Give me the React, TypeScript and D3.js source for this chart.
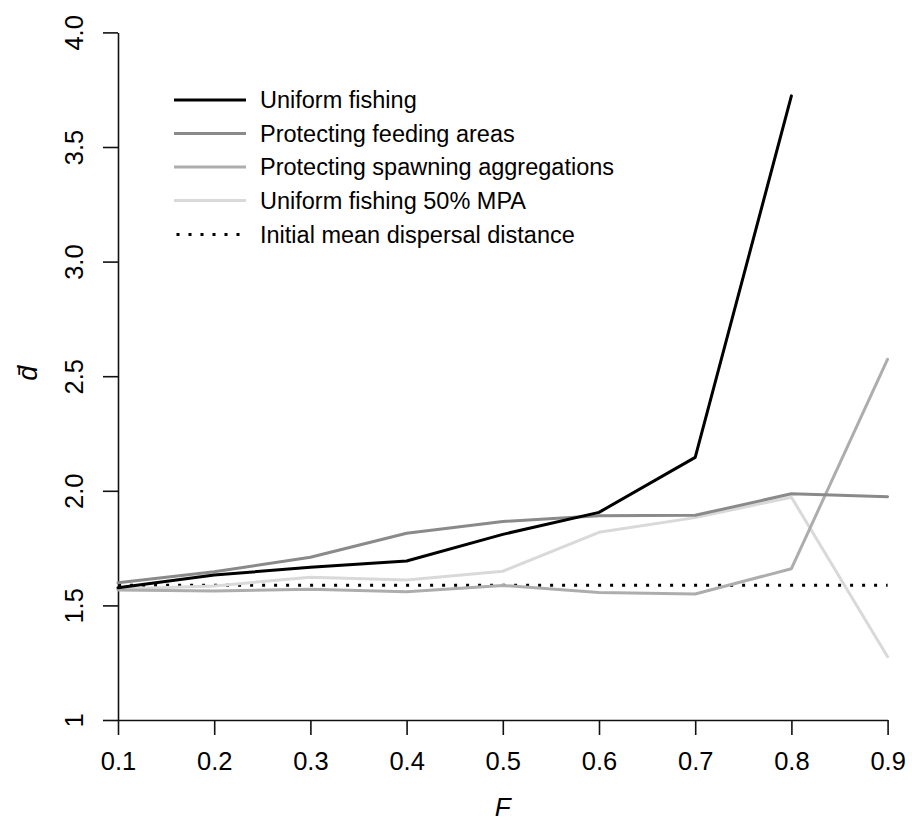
import React, { useEffect, useRef } from "react";
import * as d3 from "d3";

// fishing mortality
const fValues = [0.1, 0.2, 0.3, 0.4, 0.5, 0.6, 0.7, 0.8, 0.9];

// mean dispersal distance per scenario (uniform fishing stops at 0.8)
const uniformFishing = [1.577, 1.633, 1.666, 1.694, 1.81, 1.906, 2.146, 3.723];
const protectFeeding = [1.599, 1.647, 1.71, 1.815, 1.866, 1.891, 1.893, 1.987, 1.974];
const protectSpawning = [1.567, 1.563, 1.57, 1.56, 1.587, 1.556, 1.55, 1.66, 2.574];
const uniformMpa = [1.572, 1.585, 1.623, 1.611, 1.649, 1.819, 1.883, 1.972, 1.276];
const initialDistance = 1.588;

const yTicks = [1, 1.5, 2, 2.5, 3, 3.5, 4];
const yTickLabels = ["1", "1.5", "2.0", "2.5", "3.0", "3.5", "4.0"];
const xTickLabels = ["0.1", "0.2", "0.3", "0.4", "0.5", "0.6", "0.7", "0.8", "0.9"];

const seriesNames = [
  "Uniform fishing",
  "Protecting feeding areas",
  "Protecting spawning aggregations",
  "Uniform fishing 50% MPA",
  "Initial mean dispersal distance",
];
const seriesColors = ["#000000", "#8a8a8a", "#adadad", "#d9d9d9", "#000000"];

const FONT = "'Liberation Sans', Arial, Helvetica, sans-serif";

export default function App() {
  const svgRef = useRef<SVGSVGElement>(null);

  useEffect(() => {
    drawChart();
  }, []);

  const drawChart = () => {
    const svg = d3.select(svgRef.current);
    svg.selectAll("*").remove();

    const width = 912;
    const height = 823;
    const left = 118;
    const right = 887.6;
    const top = 32.4;
    const bottom = 720;

    const x = d3.scaleLinear().domain([0.1, 0.9]).range([left, right]);
    const y = d3.scaleLinear().domain([1, 4]).range([bottom, top]);

    svg.append("rect").attr("width", width).attr("height", height).attr("fill", "#fff");

    // x axis
    const xAxis = svg
      .append("g")
      .attr("transform", `translate(0,${bottom})`)
      .call(
        d3
          .axisBottom(x)
          .tickValues(fValues)
          .tickSize(15)
          .tickSizeOuter(0)
          .tickFormat((d, i) => xTickLabels[i])
      );
    xAxis.selectAll("path, line").attr("stroke", "#111").attr("stroke-width", 1.6);
    xAxis
      .selectAll("text")
      .attr("y", 50)
      .attr("dy", 0)
      .attr("fill", "#000")
      .style("font-family", FONT)
      .style("font-size", "25.5px");

    // y axis
    const yAxis = svg
      .append("g")
      .attr("transform", `translate(${left},0)`)
      .call(
        d3
          .axisLeft(y)
          .tickValues(yTicks)
          .tickSize(15)
          .tickSizeOuter(0)
          .tickFormat((d, i) => yTickLabels[i])
      );
    yAxis.selectAll("path, line").attr("stroke", "#111").attr("stroke-width", 1.6);
    yAxis
      .selectAll("text")
      .attr("transform", "rotate(-90)")
      .attr("x", 0)
      .attr("y", -35)
      .attr("dy", 0)
      .attr("text-anchor", "middle")
      .attr("fill", "#000")
      .style("font-family", FONT)
      .style("font-size", "25.5px");

    // reference line
    svg
      .append("line")
      .attr("x1", x(0.1))
      .attr("x2", x(0.9))
      .attr("y1", y(initialDistance))
      .attr("y2", y(initialDistance))
      .attr("stroke", "#000")
      .attr("stroke-width", 3)
      .attr("stroke-dasharray", "3 9")
      .attr("stroke-dashoffset", -0.1);

    const line = d3
      .line<number>()
      .x((d, i) => x(fValues[i]))
      .y((d) => y(d));

    const series = [uniformMpa, protectSpawning, protectFeeding, uniformFishing];
    const colors = [seriesColors[3], seriesColors[2], seriesColors[1], seriesColors[0]];
    series.forEach((values, k) => {
      svg
        .append("path")
        .datum(values)
        .attr("d", line)
        .attr("fill", "none")
        .attr("stroke", colors[k])
        .attr("stroke-width", 3)
        .attr("stroke-linejoin", "round")
        .attr("stroke-linecap", "round");
    });

    // legend
    const legend = svg.append("g");
    const rowY = [100, 133.5, 167, 200.5, 234.5];
    seriesNames.forEach((name, i) => {
      legend
        .append("line")
        .attr("x1", 174)
        .attr("x2", 246)
        .attr("y1", rowY[i])
        .attr("y2", rowY[i])
        .attr("stroke", seriesColors[i])
        .attr("stroke-width", 3)
        .attr("stroke-dasharray", i === 4 ? "3 9" : null)
        .attr("stroke-dashoffset", i === 4 ? -2.5 : null);
      legend
        .append("text")
        .attr("x", 260)
        .attr("y", rowY[i] + 8)
        .attr("fill", "#000")
        .style("font-family", FONT)
        .style("font-size", "23.5px")
        .text(name);
    });

    // axis titles
    svg
      .append("text")
      .attr("x", (left + right) / 2)
      .attr("y", 816)
      .attr("text-anchor", "middle")
      .style("font-family", FONT)
      .style("font-size", "26px")
      .style("font-style", "italic")
      .text("F");

    svg
      .append("text")
      .attr("transform", `translate(37,${(top + bottom) / 2 - 3}) rotate(-90)`)
      .attr("text-anchor", "middle")
      .style("font-family", FONT)
      .style("font-size", "27px")
      .style("font-style", "italic")
      .text("d\u0304");
  };

  return (
    <svg
      ref={svgRef}
      width={912}
      height={823}
      style={{ position: "absolute", left: 0, top: 0 }}
    ></svg>
  );
}
